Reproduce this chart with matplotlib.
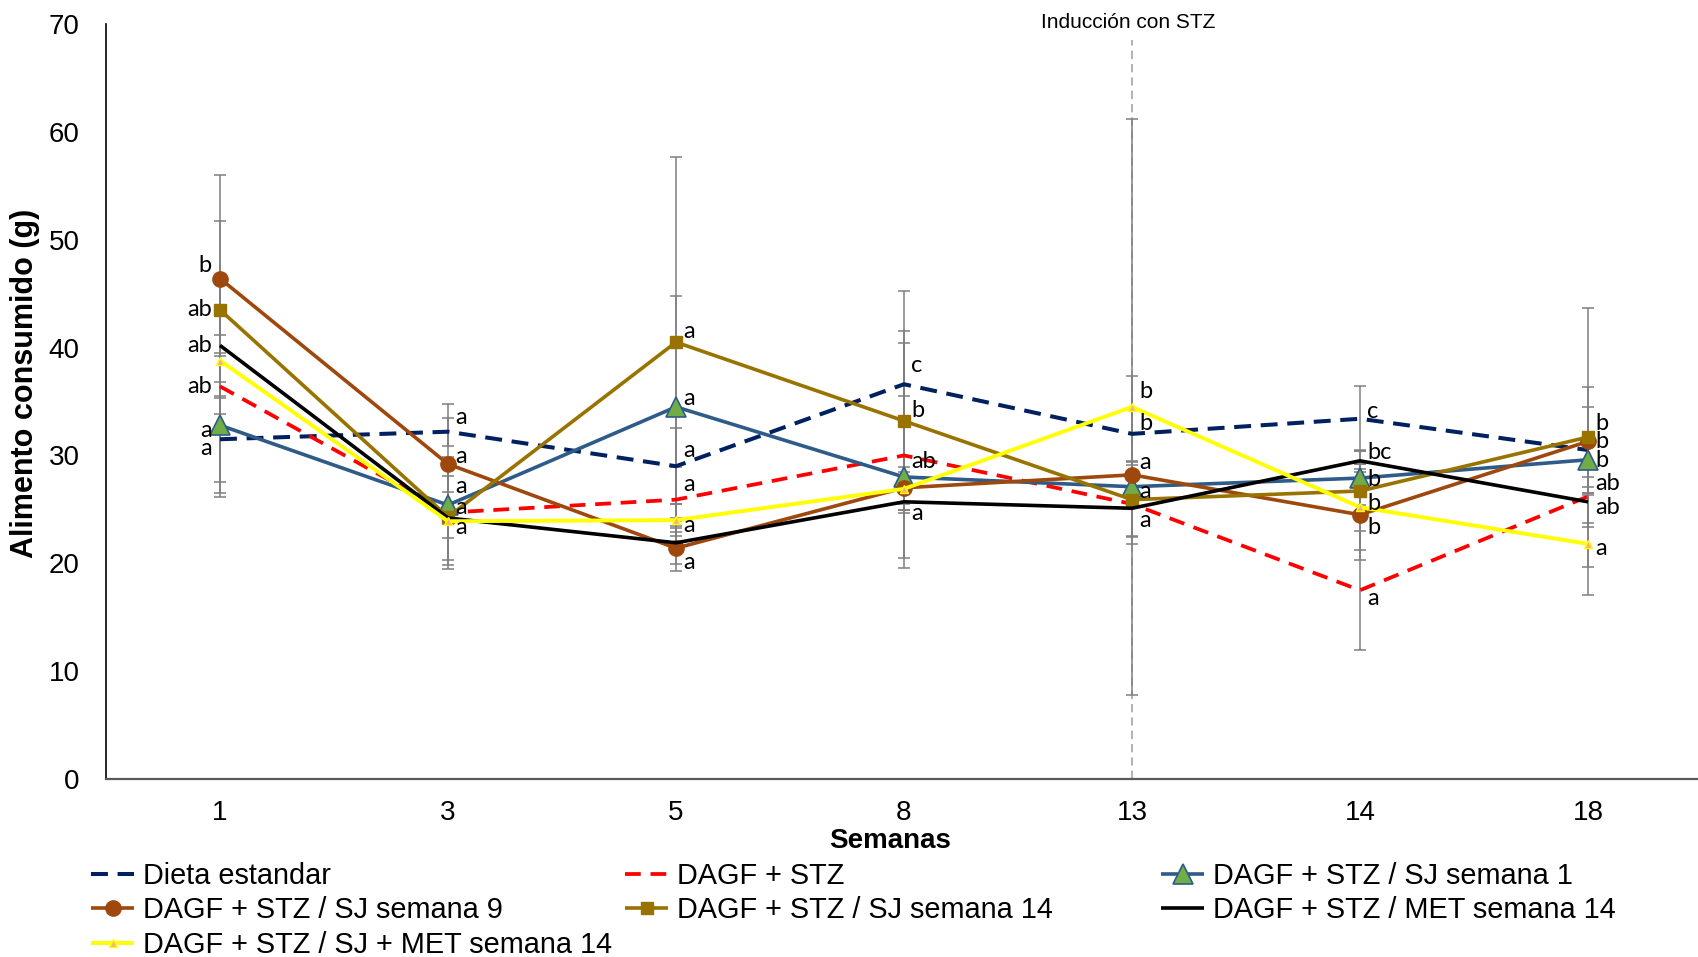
import matplotlib
matplotlib.use("Agg")
import matplotlib.pyplot as plt
import numpy as np

# ---- data -------------------------------------------------------------
weeks = ["1", "3", "5", "8", "13", "14", "18"]

series_names = [
    "Dieta estandar",
    "DAGF + STZ",
    "DAGF + STZ / SJ semana 1",
    "DAGF + STZ / SJ semana 9",
    "DAGF + STZ / SJ semana 14",
    "DAGF + STZ / MET semana 14",
    "DAGF + STZ / SJ + MET semana 14",
]

dieta_estandar = [31.5, 32.2, 29.0, 36.6, 32.0, 33.4, 30.5]
dagf_stz = [36.4, 24.7, 25.9, 30.0, 25.5, 17.5, 26.2]
sj_semana1 = [32.8, 25.4, 34.5, 28.0, 27.1, 27.9, 29.6]
sj_semana9 = [46.4, 29.2, 21.4, 27.0, 28.2, 24.5, 31.3]
sj_semana14 = [43.5, 24.3, 40.5, 33.2, 25.9, 26.7, 31.7]
met_semana14 = [40.2, 24.2, 21.9, 25.7, 25.1, 29.5, 25.7]
sj_met_semana14 = [38.8, 23.9, 24.0, 26.9, 34.5, 25.2, 21.8]

err_dieta_estandar = [4.0, 1.3, 3.5, 8.6, 5.4, 3.0, 4.0]
err_dagf_stz = [9.9, 5.2, 3.0, 10.4, 3.0, 5.5, 2.5]
err_sj_semana1 = [6.7, 1.2, 10.3, 7.5, 2.0, 2.5, 2.5]
err_sj_semana9 = [9.6, 5.6, 2.1, 1.5, 1.3, 4.2, 5.0]
err_sj_semana14 = [8.2, 4.5, 17.2, 8.3, 3.5, 2.5, 12.0]
err_met_semana14 = [1.0, 3.9, 2.0, 1.0, 3.3, 1.0, 2.3]
err_sj_met_semana14 = [5.0, 1.6, 1.5, 2.0, 26.7, 4.0, 4.7]

# significance letters per point ("" = none shown)
let_dieta_estandar = ["a", "a", "a", "c", "b", "c", ""]
let_dagf_stz = ["ab", "a", "a", "ab", "a", "a", "ab"]
let_sj_semana1 = ["a", "a", "a", "", "a", "b", "b"]
let_sj_semana9 = ["b", "a", "a", "", "a", "b", "b"]
let_sj_semana14 = ["ab", "", "a", "b", "", "", "b"]
let_met_semana14 = ["ab", "", "", "a", "", "bc", "ab"]
let_sj_met_semana14 = ["", "a", "a", "", "b", "b", "a"]

induction_week = "13"
induction_text = "Inducción con STZ"

# ---- styling ----------------------------------------------------------
values = [dieta_estandar, dagf_stz, sj_semana1, sj_semana9,
          sj_semana14, met_semana14, sj_met_semana14]
errors = [err_dieta_estandar, err_dagf_stz, err_sj_semana1, err_sj_semana9,
          err_sj_semana14, err_met_semana14, err_sj_met_semana14]
letters = [let_dieta_estandar, let_dagf_stz, let_sj_semana1, let_sj_semana9,
           let_sj_semana14, let_met_semana14, let_sj_met_semana14]

styles = [
    dict(color="#002060", lw=2.9, dashes=(4.2, 2.4), marker=None),
    dict(color="#FF0000", lw=2.7, dashes=(4.2, 2.6), marker=None),
    dict(color="#2E5B88", lw=2.6, marker="^", ms=15, mfc="#70AD47", mec="#2E5B88", mew=1.2),
    dict(color="#9E480E", lw=2.6, marker="o", ms=11, mfc="#9E480E", mec="#9E480E"),
    dict(color="#997300", lw=2.6, marker="s", ms=9, mfc="#997300", mec="#997300"),
    dict(color="#000000", lw=2.6, marker=None),
    dict(color="#FFFF00", lw=2.8, marker="^", ms=6, mfc="#F4B183", mec="#FFFF00", mew=1.0),
]

# vertical nudges of the letters (in data units) so they do not collide
letter_nudge = [
    [-0.9, 1.3, 1.5, 1.7, 1.0, 0.7, 0.0],
    [0.0, 0.5, 1.4, -0.6, -1.5, -0.8, 1.2],
    [-0.5, 1.7, 0.8, 0.0, -0.4, -0.1, -0.1],
    [1.2, 0.7, -1.3, 0.0, 1.1, -1.2, 0.0],
    [0.0, 0.0, 1.0, 1.0, 0.0, 0.0, 1.3],
    [0.0, 0.0, 0.0, -1.1, 0.0, 0.8, -0.5],
    [0.0, -0.6, -0.5, 0.0, 1.4, 0.3, -0.4],
]

SANS = ["Liberation Sans", "DejaVu Sans"]
LETTER_FONT = ["Lato", "DejaVu Sans"]
plt.rcParams["font.family"] = SANS

W, H = 1699, 957
fig = plt.figure(figsize=(W / 100, H / 100), dpi=100)
ax = fig.add_axes([106 / W, 1 - 779 / H, 1596 / W, (779 - 24) / H])

x = np.arange(len(weeks))

# error bars underneath the lines
for vals, errs in zip(values, errors):
    ax.errorbar(x, vals, yerr=errs, fmt="none", ecolor="#7F7F7F",
                elinewidth=1.1, capsize=4, capthick=1.1, zorder=2)

handles = []
for i, (name, vals, st) in enumerate(zip(series_names, values, styles)):
    kw = dict(color=st["color"], lw=st["lw"], solid_capstyle="butt",
              dash_capstyle="butt", zorder=3 + i, label=name)
    if "dashes" in st:
        kw["dashes"] = st["dashes"]
    if st["marker"]:
        kw.update(marker=st["marker"], markersize=st["ms"],
                  markerfacecolor=st["mfc"], markeredgecolor=st["mec"],
                  markeredgewidth=st.get("mew", 1.0))
    (ln,) = ax.plot(x, vals, **kw)
    handles.append(ln)

# significance letters
for s, (vals, lets) in enumerate(zip(values, letters)):
    for k, lab in enumerate(lets):
        if not lab:
            continue
        yv = vals[k] + letter_nudge[s][k]
        first = k == 0
        ax.annotate(lab, (x[k], yv), xytext=(-6 if first else 5, 0),
                    textcoords="offset points", ha="right" if first else "left",
                    va="center", fontsize=17, family=LETTER_FONT, zorder=20)

# STZ induction marker
xi = weeks.index(induction_week)
ax.plot([xi, xi], [0, 68.5], color="#A6A6A6", lw=1.2, dashes=(5, 3), zorder=1)
ax.text(xi - 0.015, 70.1, induction_text, ha="center", va="center", fontsize=15,
        clip_on=False)

ax.set_xlim(-0.5, 6.5)
ax.set_ylim(0, 70)
ax.set_yticks(np.arange(0, 71, 10))
ax.set_xticks(x)
ax.set_xticklabels(weeks)
ax.tick_params(axis="both", length=0, labelsize=20)
ax.tick_params(axis="y", pad=19)
ax.tick_params(axis="x", pad=15)
for side in ("top", "right"):
    ax.spines[side].set_visible(False)
ax.spines["left"].set_color("#000000")
ax.spines["left"].set_linewidth(1.2)
ax.spines["bottom"].set_color("#595959")
ax.spines["bottom"].set_linewidth(1.6)

fig.text(25 / W, 1 - 383 / H, "Alimento consumido (g)", rotation=90,
         ha="center", va="center", fontsize=22, fontweight="bold")
fig.text(890 / W, 1 - 841 / H, "Semanas", ha="center", va="center",
         fontsize=20, fontweight="bold")

# legend laid out as three columns
columns = [[0, 3, 6], [1, 4], [2, 5]]
col_left = [91, 625, 1161]
for c, idx in enumerate(columns):
    fig.legend([handles[i] for i in idx], [series_names[i] for i in idx],
               loc="upper left", bbox_to_anchor=(col_left[c] / W, 1 - 862 / H),
               frameon=False, fontsize=20.8, handlelength=1.5,
               handletextpad=0.3, labelspacing=0.22, borderaxespad=0,
               borderpad=0)

fig.savefig("out.png", dpi=100)
